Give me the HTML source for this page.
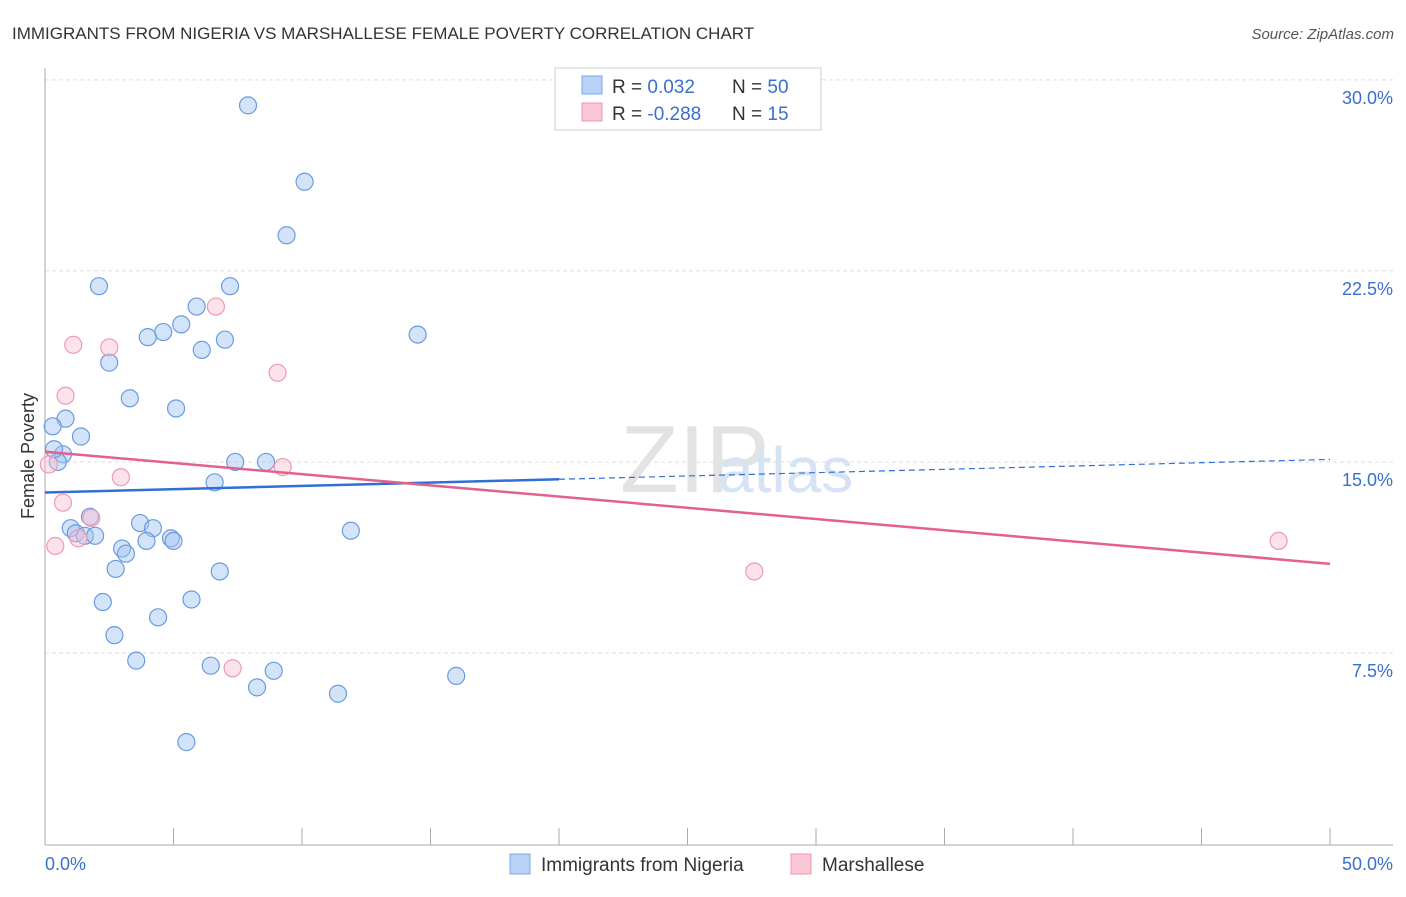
<!DOCTYPE html>
<html><head><meta charset="utf-8"><style>
body{margin:0;background:#fff;font-family:"Liberation Sans",sans-serif;}
svg text{font-family:"Liberation Sans",sans-serif;}
</style></head><body>
<svg width="1406" height="892" xmlns="http://www.w3.org/2000/svg">
<text x="12" y="39" font-size="17" fill="#333">IMMIGRANTS FROM NIGERIA VS MARSHALLESE FEMALE POVERTY CORRELATION CHART</text>
<text x="1394" y="39" font-size="15" fill="#555" font-style="italic" text-anchor="end">Source: ZipAtlas.com</text>
<g id="grid"></g>
<line x1="45" y1="68" x2="45" y2="845" stroke="#aaa"/>
<line x1="45" y1="845" x2="1393" y2="845" stroke="#aaa"/>
<g id="xticks"></g>
<text x="620" y="492" font-size="96" fill="#e3e3e3" font-family="Liberation Serif">ZIP</text>
<text x="718" y="492" font-size="64" fill="#d6e3f5">atlas</text>
<text transform="translate(34,456) rotate(-90)" font-size="18" fill="#333" text-anchor="middle">Female Poverty</text>
<text x="45" y="870" font-size="18" fill="#3a6fd0">0.0%</text>
<text x="1393" y="870" font-size="18" fill="#3a6fd0" text-anchor="end">50.0%</text>
<g id="pts"></g>
<g id="lines"></g>
<g>
<rect x="555" y="68" width="266" height="62" fill="#fff" stroke="#ccc"/>
<rect x="582" y="76" width="20" height="18" fill="#b8d2f5" stroke="#7aa6e6"/>
<rect x="582" y="103" width="20" height="18" fill="#f9c6d4" stroke="#ee9ab3"/>
<text x="612" y="93" font-size="19" fill="#333">R = <tspan fill="#3a6fd0">0.032</tspan><tspan x="732">N = </tspan><tspan fill="#3a6fd0">50</tspan></text>
<text x="612" y="120" font-size="19" fill="#333">R = <tspan fill="#3a6fd0">-0.288</tspan><tspan x="732">N = </tspan><tspan fill="#3a6fd0"> 15</tspan></text>
</g>
<g>
<rect x="510" y="854" width="20" height="20" fill="#b8d2f5" stroke="#7aa6e6"/>
<text x="541" y="871" font-size="19" fill="#333">Immigrants from Nigeria</text>
<rect x="791" y="854" width="20" height="20" fill="#f9c6d4" stroke="#ee9ab3"/>
<text x="822" y="871" font-size="19" fill="#333">Marshallese</text>
</g>
</svg>
<script>
const yTicks=[7.5,15,22.5,30];
const yTickLabels=["7.5%","15.0%","22.5%","30.0%"];
const xTickVals=[5,10,15,20,25,30,35,40,45,50];
const blueX=[7.9,10.1,9.4,2.1,7.2,5.9,5.3,4.6,4.0,7.0,14.5,6.1,2.5,3.3,5.1,0.8,0.3,1.4,0.7,0.5,0.35,7.4,8.6,6.6,1.75,3.7,4.2,1.0,1.2,1.55,1.95,3.95,4.9,5.0,11.9,3.0,3.15,2.75,6.8,2.25,5.7,4.4,2.7,3.55,6.45,8.9,8.25,11.4,16.0,5.5];
const blueY=[29.0,26.0,23.9,21.9,21.9,21.1,20.4,20.1,19.9,19.8,20.0,19.4,18.9,17.5,17.1,16.7,16.4,16.0,15.3,15.0,15.5,15.0,15.0,14.2,12.85,12.6,12.4,12.4,12.2,12.1,12.1,11.9,12.0,11.9,12.3,11.6,11.4,10.8,10.7,9.5,9.6,8.9,8.2,7.2,7.0,6.8,6.15,5.9,6.6,4.0];
const pinkX=[1.1,2.5,6.65,0.8,9.05,2.95,9.25,0.15,0.7,1.8,1.3,0.4,7.3,27.6,48.0];
const pinkY=[19.6,19.5,21.1,17.6,18.5,14.4,14.8,14.9,13.4,12.8,12.0,11.7,6.9,10.7,11.9];
const blueFit=[13.8,15.1]; // at x=0 and x=50
const blueSolidEnd=20;
const pinkFit=[15.4,11.0];
const X=v=>45+v*25.7, Y=v=>844-v*25.47;
const NS="http://www.w3.org/2000/svg";
function mk(t,a,p){const e=document.createElementNS(NS,t);for(const k in a)e.setAttribute(k,a[k]);p.appendChild(e);return e;}
const grid=document.getElementById('grid');
yTicks.forEach((v,i)=>{
 const l=mk('line',{x1:45,x2:1393,y1:Y(v),y2:Y(v),stroke:'#ddd','stroke-dasharray':'4,3'},grid);
 
 
 const t=mk('text',{x:1393,y:Y(v)+24,'font-size':18,fill:'#3a6fd0','text-anchor':'end'},grid);
 t.textContent=yTickLabels[i];
 
 
});
const xt=document.getElementById('xticks');
xTickVals.forEach(v=>{
 const l=mk('line',{x1:X(v),x2:X(v),y1:828,y2:845,stroke:'#aaa'},xt);
 
 
});
const pts=document.getElementById('pts');
blueX.forEach((x,i)=>{
 const c=mk('circle',{cx:X(x),cy:Y(blueY[i]),r:8.5,fill:'rgba(160,195,240,0.45)',stroke:'#6a9be0','stroke-width':1.2},pts);
 
 
});
pinkX.forEach((x,i)=>{
 const c=mk('circle',{cx:X(x),cy:Y(pinkY[i]),r:8.5,fill:'rgba(248,190,208,0.45)',stroke:'#ee9ab3','stroke-width':1.2},pts);
 
 
});
const ln=document.getElementById('lines');
const bAt=x=>blueFit[0]+(blueFit[1]-blueFit[0])*x/50;
let a=mk('line',{x1:X(0),y1:Y(bAt(0)),x2:X(blueSolidEnd),y2:Y(bAt(blueSolidEnd)),stroke:'#2f6fd6','stroke-width':2.5},ln);


a=mk('line',{x1:X(blueSolidEnd),y1:Y(bAt(blueSolidEnd)),x2:X(50),y2:Y(bAt(50)),stroke:'#2f6fd6','stroke-width':1.2,'stroke-dasharray':'6,4'},ln);


a=mk('line',{x1:X(0),y1:Y(pinkFit[0]),x2:X(50),y2:Y(pinkFit[1]),stroke:'#e4608d','stroke-width':2.5},ln);


</script>
</body></html>
